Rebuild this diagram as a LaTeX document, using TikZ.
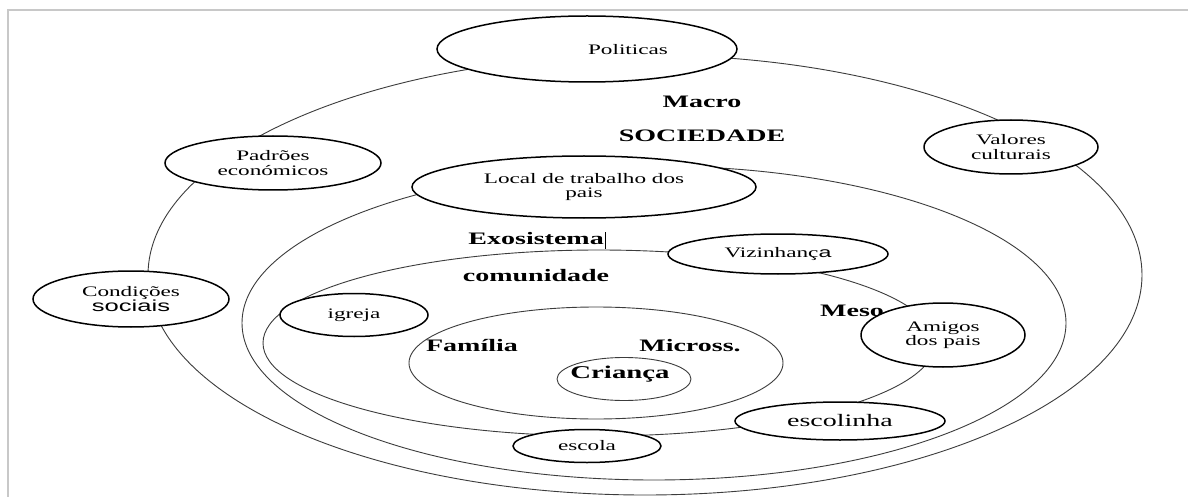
\documentclass[tikz,border=0pt]{standalone}
\usepackage{fontspec}
\setmainfont{Liberation Serif}[FakeStretch=1.6]
\setsansfont{Liberation Sans}[FakeStretch=1.6]
\usetikzlibrary{shapes.geometric}
\definecolor{framegray}{HTML}{C8C8C8}
\definecolor{ringgray}{HTML}{3C3C3C}

\begin{document}
\begin{tikzpicture}[x=1pt, y=-1pt,
    ring/.style={ellipse, draw=ringgray, line width=0.9pt, inner sep=0pt},
    place/.style={ellipse, draw, fill=white, line width=1.5pt, inner sep=0pt,
      align=center, font=\fontsize{14.5}{14.5}\selectfont},
    level/.style={inner sep=0pt, font=\bfseries\fontsize{17.5}{17.5}\selectfont}]
  \fill[white] (0,0) rectangle (1188,497);
  \useasboundingbox (0,0) rectangle (1188,497);
  \clip (0,0) rectangle (1188,497);
  \draw[framegray, line width=2pt] (8,510) -- (8,10) -- (1200,10);

  % the rings, outside in
  \node[ring, minimum width=994, minimum height=440] (macro) at (645,275) {};
  \node[ring, minimum width=824, minimum height=314] (exo) at (654,323) {};
  \node[ring, minimum width=672, minimum height=186] (meso) at (599,343) {};
  \node[ring, minimum width=374, minimum height=112] (micro) at (596,363) {};
  \node[ring, minimum width=134, minimum height=43] (crianca) at (624,379) {};

  % names of the levels
  \node[level] (macrotxt) at (702,102) {Macro};
  \node[level] (sociedade) at (702,136) {SOCIEDADE};
  \node[level] (exotxt) at (537,240) {Exosistema\hspace{1pt}\rule[-4pt]{0.8pt}{17pt}};
  \node[level] (comunidade) at (536,276) {comunidade};
  \node[level] (mesotxt) at (852,311) {Meso};
  \node[level] (familia) at (472,346) {Família};
  \node[level] (microtxt) at (690,346) {Micross.};
  \node[level, font=\bfseries\fontsize{18}{18}\selectfont] (criancatxt) at (620,374) {Criança};

  % places on the rings
  \node[place, minimum width=300, minimum height=66] (politicas) at (587,49) {};
  \node[inner sep=0pt, font=\fontsize{14.5}{14.5}\selectfont] (politxt) at (628,50) {Politicas};
  \node[place, minimum width=216, minimum height=54] (padroes) at (273,163) {Padrões\\económicos};
  \node[place, minimum width=344, minimum height=62] (trabalho) at (584,187) {Local de trabalho dos\\pais};
  \node[place, minimum width=174, minimum height=54] (valores) at (1011,147) {Valores\\culturais};
  \node[place, minimum width=220, minimum height=40] (vizinhanca) at (778,254) {Vizinhanç{\sffamily a}};
  \node[place, minimum width=196, minimum height=56] (condicoes) at (131,299)
    {Condições\\{\sffamily\fontsize{16}{16}\selectfont sociais}};
  \node[place, minimum width=148, minimum height=43] (igreja) at (354,315) {igreja};
  \node[place, minimum width=164, minimum height=64] (amigos) at (943,335) {Amigos\\dos pais};
  \node[place, minimum width=210, minimum height=38, font=\fontsize{17.5}{17.5}\selectfont] (escolinha) at (840,421) {escolinha};
  \node[place, minimum width=148, minimum height=33] (escola) at (587,446) {escola};
\end{tikzpicture}
\end{document}
